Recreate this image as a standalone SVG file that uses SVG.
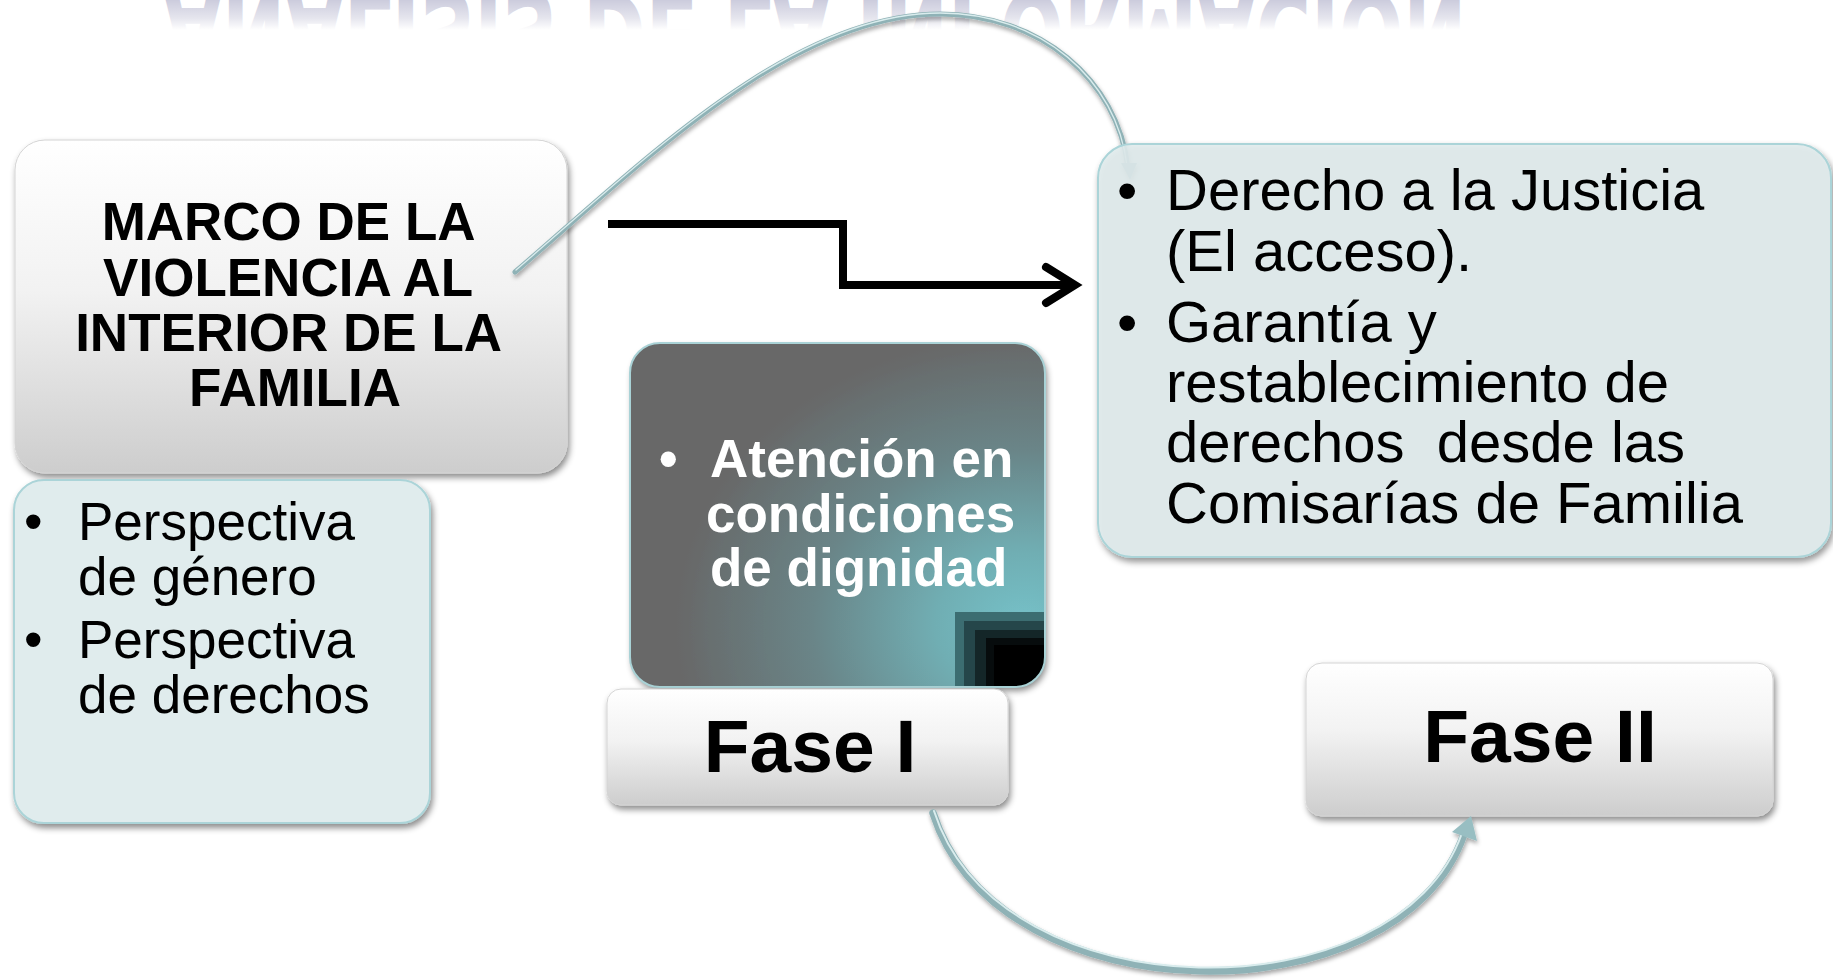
<svg xmlns="http://www.w3.org/2000/svg" width="1833" height="980" viewBox="0 0 1833 980">
<style>
.t{font-family:"Liberation Sans",Arial,sans-serif;fill:#000}
.b{font-weight:bold}
.w{fill:#fff}
.gray{fill:url(#gGray);stroke:#d4d4d4;stroke-width:1}
.teal{fill:#e0eced;stroke:#abd4d8;stroke-width:2}
.tube{fill:none;stroke:#8fb2b6;stroke-linecap:round}
.hl{fill:none;stroke:#d9eced;stroke-linecap:round}
</style>
<defs>
<linearGradient id="gGray" x1="0" y1="0" x2="0" y2="1">
<stop offset="0" stop-color="#ffffff"/>
<stop offset="0.45" stop-color="#f2f2f2"/>
<stop offset="1" stop-color="#cdcdcd"/>
</linearGradient>
<radialGradient id="gDark" cx="0.95" cy="0.82" r="0.85">
<stop offset="0" stop-color="#75c1c8"/>
<stop offset="0.25" stop-color="#70aeb3"/>
<stop offset="0.6" stop-color="#6a8588"/>
<stop offset="1" stop-color="#676767"/>
</radialGradient>
<linearGradient id="fadeWhite" gradientUnits="userSpaceOnUse" x1="0" y1="0" x2="0" y2="30">
<stop offset="0" stop-color="#fff" stop-opacity="0.1"/>
<stop offset="0.6" stop-color="#fff" stop-opacity="0.55"/>
<stop offset="1" stop-color="#fff" stop-opacity="1"/>
</linearGradient>
<filter id="sh" x="-10%" y="-10%" width="125%" height="130%">
<feDropShadow dx="2" dy="4" stdDeviation="3" flood-color="#000" flood-opacity="0.45"/>
</filter>
<filter id="shA" x="-10%" y="-20%" width="120%" height="140%">
<feDropShadow dx="1" dy="3" stdDeviation="2" flood-color="#000" flood-opacity="0.35"/>
</filter>
<clipPath id="darkClip"><rect x="630" y="343" width="415" height="344" rx="30"/></clipPath>
</defs>
<rect width="1833" height="980" fill="#fff"/>

<g id="title-reflection">
<text class="b" transform="translate(815,-7) scale(1,-1)" x="0" y="0" text-anchor="middle" font-family="'Liberation Sans Narrow','DejaVu Sans Condensed','Liberation Sans',sans-serif" font-size="115" fill="#c6c6d9" textLength="1303" lengthAdjust="spacingAndGlyphs">ANALISIS DE LA INFORMACION</text>
<rect x="0" y="0" width="1833" height="110" fill="url(#fadeWhite)"/>
</g>

<g id="marco">
<rect class="gray" x="15" y="140" width="552" height="333" rx="30" filter="url(#sh)"/>
<text class="t b" font-size="53" text-anchor="middle">
<tspan x="295" y="240">MARCO DE LA</tspan>
<tspan x="295" y="296">VIOLENCIA AL</tspan>
<tspan x="295" y="351">INTERIOR DE LA</tspan>
<tspan x="295" y="406">FAMILIA</tspan>
</text>
</g>

<g id="perspectivas">
<rect class="teal" x="14" y="480" width="416" height="343" rx="30" filter="url(#sh)"/>
<text class="t" font-size="53">
<tspan x="24" y="540">•</tspan><tspan x="78" y="540">Perspectiva</tspan>
<tspan x="78" y="595">de género</tspan>
<tspan x="24" y="658">•</tspan><tspan x="78" y="658">Perspectiva</tspan>
<tspan x="78" y="713">de derechos</tspan>
</text>
</g>

<g id="atencion">
<rect x="630" y="343" width="415" height="344" rx="30" fill="url(#gDark)" filter="url(#sh)"/>
<g clip-path="url(#darkClip)">
<rect x="955" y="612" width="95" height="80" fill="#3c6d71"/>
<rect x="964" y="621" width="86" height="71" fill="#25464a"/>
<rect x="975" y="630" width="75" height="61" fill="#142628"/>
<rect x="986" y="638" width="64" height="53" fill="#070c0d"/>
<rect x="994" y="645" width="56" height="46" fill="#000"/>
</g>
<rect x="630" y="343" width="415" height="344" rx="30" fill="none" stroke="#a9d2d6" stroke-width="2"/>
<text class="t b w" font-size="53">
<tspan x="659" y="477">•</tspan><tspan x="710" y="477">Atención en</tspan>
<tspan x="706" y="532">condiciones</tspan>
<tspan x="710" y="586">de dignidad</tspan>
</text>
</g>

<g id="fase1">
<rect class="gray" x="607" y="689" width="401" height="116" rx="14" filter="url(#sh)"/>
<text class="t b" font-size="75" x="810" y="772" text-anchor="middle">Fase I</text>
</g>

<g id="fase2">
<rect class="gray" x="1306" y="663" width="467" height="153" rx="16" filter="url(#sh)"/>
<text class="t b" font-size="75" x="1540" y="762" text-anchor="middle">Fase II</text>
</g>

<g id="connectors">
<g filter="url(#shA)">
<path class="tube" stroke-width="5" d="M515,272 C640,165 790,14 940,14 C1040,14 1118,80 1128,168"/>
<path class="hl" stroke-width="1.3" d="M516,270 C641,163 790,13 940,13 C1040,13 1117,79 1127,166"/>
<polygon points="1130,180 1121,163 1137,163" fill="#8fb2b6"/>
</g>
<g filter="url(#shA)">
<path class="tube" stroke="#98bec2" stroke-width="7.5" d="M933,813 C1000,1020 1400,1020 1464,834"/>
<path class="hl" stroke-width="2" d="M934,811 C1000,1016 1398,1016 1462,833"/>
<polygon points="1471,816 1452,832 1477,841" fill="#98bec2"/>
</g>
<path d="M608,224 H843 V285 H1072" fill="none" stroke="#000" stroke-width="8"/>
<polyline points="1046,267 1075,285 1046,303" fill="none" stroke="#000" stroke-width="8" stroke-linecap="round" stroke-linejoin="miter"/>
</g>

<g id="derecho">
<rect x="1098" y="144" width="733" height="413" rx="34" fill="#e0eced" fill-opacity="0.88" stroke="#abd4d8" stroke-width="2" filter="url(#sh)"/>
<text class="t" font-size="58" style="white-space:pre">
<tspan x="1117" y="210">•</tspan><tspan x="1166" y="210">Derecho a la Justicia</tspan>
<tspan x="1166" y="271">(El acceso).</tspan>
<tspan x="1117" y="342">•</tspan><tspan x="1166" y="342">Garantía y</tspan>
<tspan x="1166" y="402">restablecimiento de</tspan>
<tspan x="1166" y="462">derechos  desde las</tspan>
<tspan x="1166" y="523">Comisarías de Familia</tspan>
</text>
</g>
</svg>
